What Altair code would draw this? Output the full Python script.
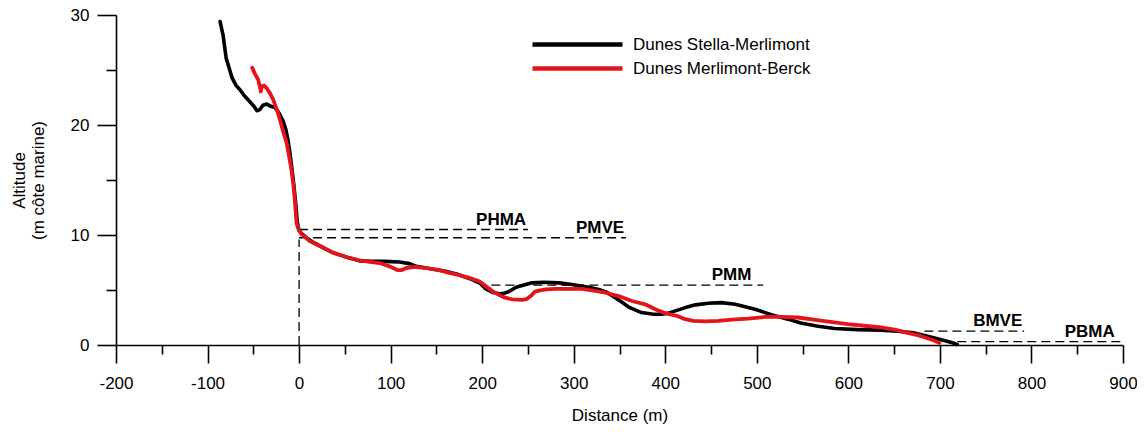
import altair as alt
import pandas as pd

S1 = "Dunes Stella-Merlimont"
S2 = "Dunes Merlimont-Berck"

# Profile 1 (black): distance (m), altitude (m)
stella_x = [-86.3, -83.1, -79.7, -76.5, -73.3, -68.9, -64.6, -60.2, -54.8, -49.3, -46.0, -42.8, -39.5,
            -35.2, -30.8, -26.4, -22.1, -17.7, -14.5, -12.3, -10.1, -7.9, -5.8, -3.6, -2.0, -0.3, 1.9,
            7.3, 16, 36.7, 55, 66, 79, 93, 109.6, 120.5, 128, 142, 160, 174, 189, 198, 204, 211, 218.5,
            224, 229, 237, 245.7, 254.4, 267.5, 284, 298, 316.6, 327.4, 336, 345.5, 352.4, 360, 374,
            387, 396, 403.7, 411, 422, 433, 447, 461, 476.4, 498, 520, 534, 548, 567, 585, 610, 635,
            654, 672, 686.5, 700.6, 713.7, 719]
stella_y = [29.4, 28.2, 26.1, 25.2, 24.3, 23.6, 23.2, 22.7, 22.2, 21.7, 21.3, 21.4, 21.8,
            21.9, 21.7, 21.6, 21.1, 20.4, 19.6, 18.7, 17.5, 16.1, 14.6, 12.8, 11.2, 10.5, 10.2,
            9.8, 9.3, 8.4, 7.9, 7.65, 7.6, 7.6, 7.55, 7.4, 7.15, 6.95, 6.7, 6.4, 5.95, 5.6, 5.1, 4.8, 4.65,
            4.7, 4.85, 5.25, 5.45, 5.65, 5.7, 5.65, 5.5, 5.25, 5.05, 4.8, 4.3, 3.9, 3.45, 2.95,
            2.8, 2.8, 2.9, 3.1, 3.4, 3.65, 3.8, 3.85, 3.7, 3.25, 2.65, 2.35, 2.0, 1.7, 1.5, 1.4, 1.35,
            1.25, 1.1, 0.8, 0.5, 0.2, 0.05]

# Profile 2 (red)
berck_x = [-51.2, -48.2, -44.6, -41.7, -40.9, -38.4, -35.5, -31.9, -28.3, -24.3, -21.0, -17.7, -13.7,
           -11.2, -8.3, -6.3, -4.7, -2.8, -1.4, 0, 2.9, 8, 11.6, 22.5, 37, 51.6, 66, 88, 98.7, 104,
           107.8, 111.8, 117, 126, 138.7, 153, 164, 175, 185.8, 196.7, 204, 211, 218.5, 225, 233,
           243.8, 249, 253, 257.7, 262, 269.6, 280, 294.7, 309, 322, 334.6, 349, 363.6, 378, 389,
           398, 407, 414.5, 421.7, 430.8, 443.5, 458, 472.5, 490.6, 508.8, 526.6, 545, 572, 599.5,
           617, 635.7, 650.5, 664.8, 675.7, 683, 692, 699.3]
berck_y = [25.2, 24.65, 24.1, 23.05, 23.5, 23.6, 23.35, 22.9, 22.3, 21.4, 20.5, 19.5, 18.4,
           17.3, 15.9, 14.6, 13.2, 11.1, 10.7, 10.4, 10.05, 9.7, 9.45, 9.0, 8.4, 8.0, 7.7, 7.45, 7.15, 6.95,
           6.8, 6.8, 7.0, 7.1, 7.0, 6.8, 6.55, 6.35, 6.1, 5.8, 5.35, 4.9, 4.55, 4.3, 4.15,
           4.1, 4.2, 4.45, 4.85, 4.95, 5.05, 5.1, 5.1, 5.1, 4.95, 4.75, 4.45, 4.0, 3.7, 3.25,
           2.95, 2.75, 2.6, 2.35, 2.2, 2.15, 2.2, 2.3, 2.4, 2.55, 2.55, 2.5, 2.2, 1.9,
           1.75, 1.6, 1.4, 1.1, 0.9, 0.7, 0.45, 0.2]

# Reference levels (dashed)
level_names = ["PHMA", "PMVE", "PMM", "BMVE", "PBMA"]
level_alt = [10.5, 9.75, 5.45, 1.27, 0.3]
level_start = [0, 0, 210, 683, 719]
level_end = [250, 357, 507, 792, 900]
label_x = [248, 355, 494, 790, 891]
vline_x = [0]
vline_bottom = [0]
vline_top = [9.6]

x_major = [-200, -100, 0, 100, 200, 300, 400, 500, 600, 700, 800, 900]
x_minor = [-150, -50, 50, 150, 250, 350, 450, 550, 650, 750, 850]
y_major = [0, 10, 20, 30]
y_minor = [5, 15, 25]

FONT = "Liberation Sans"

df1 = pd.DataFrame({"profile": S1, "dist": stella_x, "alt": stella_y, "idx": range(len(stella_x))})
df2 = pd.DataFrame({"profile": S2, "dist": berck_x, "alt": berck_y, "idx": range(len(berck_x))})
levels = pd.DataFrame({"name": level_names, "level": level_alt, "x0": level_start,
                       "x1": level_end, "lx": label_x})
vline = pd.DataFrame({"x": vline_x, "y0": vline_bottom, "y1": vline_top})

xs = alt.Scale(domain=[-200, 900], nice=False, zero=False)
ys = alt.Scale(domain=[0, 30], nice=False)
cs = alt.Scale(domain=[S1, S2], range=["#000000", "#e3151a"])

x_axis = alt.Axis(values=x_major, orient="bottom", grid=False, tickSize=18, tickWidth=1.6,
                  tickColor="black", domainColor="black", domainWidth=1.6,
                  labelFont=FONT, labelFontSize=17, labelColor="black", labelPadding=12,
                  labelFlush=False, labelOverlap=False, labelExpr="'' + datum.value",
                  title="Distance (m)", titleFont=FONT, titleFontSize=17,
                  titleFontWeight="normal", titleColor="black", titlePadding=16)
y_axis = alt.Axis(values=y_major, orient="left", grid=False, tickSize=19, tickWidth=1.6,
                  tickColor="black", domainColor="black", domainWidth=1.6,
                  labelFont=FONT, labelFontSize=17, labelColor="black", labelPadding=8,
                  labelOverlap=False,
                  title=["Altitude", "(m côte marine)"], titleFont=FONT, titleFontSize=17,
                  titleFontWeight="normal", titleColor="black", titleAngle=270,
                  titleAlign="center", titleBaseline="middle", titleLineHeight=19,
                  titleX=-97, titleY=165)
x_minor_axis = alt.Axis(values=x_minor, orient="bottom", grid=False, tickSize=9, tickWidth=1.6,
                        tickColor="black", domain=False, labels=False)
y_minor_axis = alt.Axis(values=y_minor, orient="left", grid=False, tickSize=10, tickWidth=1.6,
                        tickColor="black", domain=False, labels=False)

legend = alt.Legend(title=None, orient="none", legendX=449, legendY=17, padding=0,
                    symbolType="M-4.5,0H4.5", symbolSize=400, symbolStrokeWidth=4.5,
                    labelFont=FONT, labelFontSize=17, labelColor="black", labelLimit=400,
                    labelOffset=43, rowPadding=2)

black = alt.Chart(df1).mark_line(strokeWidth=3.6, strokeJoin="round", strokeCap="round").encode(
    x=alt.X("dist:Q", scale=xs, axis=x_axis),
    y=alt.Y("alt:Q", scale=ys, axis=y_axis),
    color=alt.Color("profile:N", scale=cs, legend=legend),
    order="idx:Q",
)
red = alt.Chart(df2).mark_line(strokeWidth=3.8, strokeJoin="round", strokeCap="round").encode(
    x=alt.X("dist:Q", scale=xs, axis=None),
    y=alt.Y("alt:Q", scale=ys, axis=None),
    color=alt.Color("profile:N", scale=cs, legend=legend),
    order="idx:Q",
)
rules = alt.Chart(levels).mark_rule(strokeDash=[9, 5], strokeWidth=1.3, color="black").encode(
    x=alt.X("x0:Q", scale=xs, axis=None),
    x2="x1:Q",
    y=alt.Y("level:Q", scale=ys, axis=None),
)
vrule = alt.Chart(vline).mark_rule(strokeDash=[9, 5], strokeWidth=1.3, color="black").encode(
    x=alt.X("x:Q", scale=xs, axis=None),
    y=alt.Y("y0:Q", scale=ys, axis=None),
    y2="y1:Q",
)
labels = alt.Chart(levels).mark_text(align="right", baseline="alphabetic", dy=-5, font=FONT,
                                     fontSize=17, fontWeight="bold", color="black").encode(
    x=alt.X("lx:Q", scale=xs, axis=None),
    y=alt.Y("level:Q", scale=ys, axis=None),
    text="name:N",
)
minor = alt.Chart(levels).mark_rule(opacity=0).encode(
    x=alt.X("x0:Q", scale=xs, axis=x_minor_axis, title=None),
    y=alt.Y("level:Q", scale=ys, axis=y_minor_axis, title=None),
)

chart = alt.layer(rules, vrule, black, red, labels, minor).resolve_axis(
    x="independent", y="independent"
).properties(
    width=1007, height=330,
    autosize=alt.AutoSizeParams(type="none"),
    padding={"left": 108, "top": 7, "right": 14, "bottom": 79},
).configure_view(stroke=None)

chart.save("out.html", embed_options={"renderer": "svg", "actions": False})
